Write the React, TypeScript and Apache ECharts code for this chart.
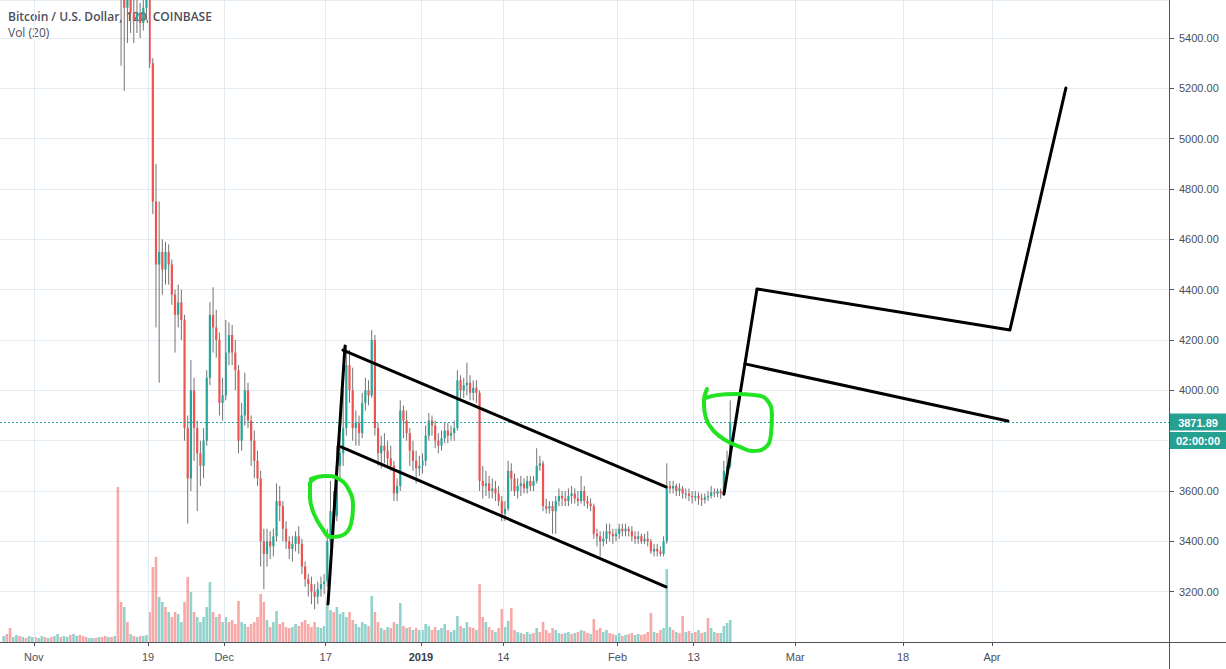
import React, { useEffect, useRef } from 'react';
import * as echarts from 'echarts';

const TITLE = 'Bitcoin / U.S. Dollar, 120, COINBASE';
const SUBTITLE = 'Vol (20)';

const xRange = ['2018-10-26 16:00', '2019-04-28 21:40'];
const xTickDates = ['2018-11-01', '2018-11-19', '2018-12-01', '2018-12-17', '2019-01-01', '2019-01-14', '2019-02-01', '2019-02-13', '2019-03-01', '2019-03-18', '2019-04-01'];
const xTickLabels = ['Nov', '19', 'Dec', '17', '2019', '14', 'Feb', '13', 'Mar', '18', 'Apr'];
const priceMin = 3000;
const priceMax = 5551;
const priceStep = 200;
const lastPrice = 3871.89;
const countdown = '02:00:00';

const candleStart = '2018-11-14 00:00';
const volumeStart = '2018-10-27 00:00';
const barHours = 12;

// 12-hour candles: [open, close, low, high]
const ohlc: number[][] = [
  [6400, 6300, 6250, 6420], [6300, 5620, 5290, 6320], // Nov 14
  [5620, 5520, 5190, 5640], [5520, 5560, 5380, 5620],
  [5560, 5500, 5420, 5600], [5500, 5470, 5380, 5560],
  [5470, 5500, 5420, 5560], [5500, 5460, 5400, 5540],
  [5460, 5520, 5430, 5580], [5520, 5560, 5470, 5620],
  [5560, 5300, 5280, 5600], [5300, 4750, 4700, 5320], // Nov 19
  [4750, 4500, 4250, 4900], [4500, 4550, 4030, 4750],
  [4550, 4480, 4380, 4600], [4480, 4550, 4420, 4590],
  [4550, 4500, 4420, 4580], [4500, 4380, 4340, 4520],
  [4380, 4300, 4150, 4400], [4300, 4350, 4250, 4420],
  [4350, 4280, 4200, 4400], [4280, 3850, 3800, 4300],
  [3850, 3650, 3470, 3900], [3650, 4000, 3600, 4120], // Nov 25
  [4000, 3850, 3720, 4050], [3850, 3750, 3520, 3880],
  [3750, 3700, 3620, 3800], [3700, 3800, 3650, 3850],
  [3800, 4050, 3780, 4080], [4050, 4300, 4020, 4350],
  [4300, 4250, 4150, 4410], [4250, 4200, 4130, 4320],
  [4200, 3950, 3900, 4230], [3950, 3980, 3880, 4050],
  [3980, 4150, 3960, 4280], [4150, 4220, 4100, 4270], // Dec 1
  [4220, 4150, 4100, 4260], [4150, 4080, 4000, 4200],
  [4080, 3800, 3750, 4100], [3800, 3900, 3760, 3950],
  [3900, 4000, 3860, 4070], [4000, 3880, 3850, 4030],
  [3880, 3800, 3700, 3900], [3800, 3720, 3650, 3840],
  [3720, 3650, 3620, 3760], [3650, 3400, 3300, 3680],
  [3400, 3350, 3210, 3450], [3350, 3400, 3300, 3450],
  [3400, 3380, 3330, 3440], [3380, 3420, 3340, 3450],
  [3420, 3560, 3400, 3630], [3560, 3540, 3480, 3620],
  [3540, 3450, 3400, 3560], [3450, 3400, 3370, 3480],
  [3400, 3370, 3330, 3420], [3370, 3390, 3320, 3420],
  [3390, 3420, 3360, 3440], [3420, 3390, 3350, 3460],
  [3390, 3300, 3270, 3410], [3300, 3250, 3220, 3320],
  [3250, 3230, 3180, 3270], [3230, 3200, 3150, 3260],
  [3200, 3180, 3130, 3230], [3180, 3210, 3150, 3240],
  [3210, 3230, 3180, 3260], [3230, 3240, 3190, 3270],
  [3240, 3400, 3220, 3450], [3400, 3520, 3380, 3640], // Dec 17
  [3520, 3500, 3420, 3600], [3500, 3700, 3480, 3780],
  [3700, 3750, 3650, 3820], [3750, 3850, 3700, 4000],
  [3850, 4100, 3820, 4180], [4100, 4000, 3950, 4160],
  [4000, 3850, 3800, 4090], [3850, 3870, 3780, 3920],
  [3870, 3830, 3780, 3900], [3830, 3950, 3810, 3990],
  [3950, 4000, 3920, 4050], [4000, 3980, 3940, 4040],
  [3980, 4200, 3970, 4240], [4200, 3850, 3820, 4220], // Dec 24
  [3850, 3750, 3700, 3870], [3750, 3780, 3690, 3820],
  [3780, 3760, 3710, 3830], [3760, 3730, 3690, 3800],
  [3730, 3700, 3680, 3780], [3700, 3590, 3560, 3720],
  [3590, 3620, 3560, 3650], [3620, 3920, 3600, 3960],
  [3920, 3880, 3810, 3940], [3880, 3830, 3800, 3920],
  [3830, 3760, 3700, 3850], [3760, 3720, 3680, 3800],
  [3720, 3690, 3630, 3760], [3690, 3700, 3660, 3740],
  [3700, 3720, 3670, 3750], [3720, 3820, 3700, 3860], // Jan 1
  [3820, 3880, 3800, 3910], [3880, 3860, 3820, 3900],
  [3860, 3800, 3770, 3880], [3800, 3780, 3750, 3830],
  [3780, 3810, 3760, 3840], [3810, 3840, 3790, 3870],
  [3840, 3820, 3790, 3870], [3820, 3830, 3800, 3860],
  [3830, 3850, 3800, 3880], [3850, 4040, 3840, 4080],
  [4040, 4000, 3960, 4060], [4000, 4020, 3970, 4050],
  [4020, 4030, 3980, 4110], [4030, 3990, 3960, 4060],
  [3990, 4010, 3960, 4040], [4010, 3990, 3950, 4040],
  [3990, 3640, 3600, 4000], [3640, 3620, 3570, 3700], // Jan 10
  [3620, 3630, 3580, 3680], [3630, 3600, 3570, 3660],
  [3600, 3610, 3570, 3650], [3610, 3590, 3560, 3640],
  [3590, 3560, 3540, 3620], [3560, 3510, 3480, 3580],
  [3510, 3530, 3480, 3560], [3530, 3680, 3520, 3720],
  [3680, 3650, 3600, 3710], [3650, 3600, 3580, 3670],
  [3600, 3620, 3570, 3650], [3620, 3630, 3580, 3660],
  [3630, 3610, 3590, 3650], [3610, 3640, 3590, 3660],
  [3640, 3620, 3600, 3660], [3620, 3640, 3600, 3660],
  [3640, 3700, 3630, 3770], [3700, 3710, 3680, 3740],
  [3710, 3540, 3520, 3720], [3540, 3530, 3510, 3570], // Jan 20
  [3530, 3540, 3510, 3560], [3540, 3520, 3430, 3560],
  [3520, 3560, 3430, 3580], [3560, 3580, 3540, 3610],
  [3580, 3570, 3540, 3600], [3570, 3560, 3540, 3600],
  [3560, 3580, 3540, 3610], [3580, 3590, 3550, 3620],
  [3590, 3570, 3550, 3610], [3570, 3560, 3540, 3600],
  [3560, 3600, 3550, 3660], [3600, 3560, 3540, 3620],
  [3560, 3550, 3530, 3580], [3550, 3540, 3520, 3570],
  [3540, 3430, 3410, 3550], [3430, 3420, 3380, 3450],
  [3420, 3400, 3340, 3440], [3400, 3410, 3380, 3440],
  [3410, 3440, 3390, 3470], [3440, 3430, 3400, 3470],
  [3430, 3420, 3390, 3450], [3420, 3430, 3400, 3450],
  [3430, 3450, 3410, 3470], [3450, 3440, 3420, 3470], // Feb 1
  [3440, 3450, 3420, 3470], [3450, 3440, 3420, 3460],
  [3440, 3420, 3400, 3460], [3420, 3410, 3390, 3440],
  [3410, 3420, 3390, 3440], [3420, 3400, 3390, 3430],
  [3400, 3410, 3390, 3430], [3410, 3400, 3380, 3440],
  [3400, 3360, 3350, 3410], [3360, 3370, 3340, 3390],
  [3370, 3360, 3340, 3390], [3360, 3350, 3340, 3380],
  [3350, 3400, 3340, 3420], [3400, 3620, 3390, 3710], // Feb 8
  [3620, 3610, 3590, 3640], [3610, 3620, 3590, 3640],
  [3620, 3600, 3580, 3630], [3600, 3610, 3580, 3630],
  [3610, 3590, 3570, 3620], [3590, 3590, 3570, 3610],
  [3590, 3580, 3560, 3610], [3580, 3575, 3550, 3600],
  [3575, 3580, 3560, 3600], [3580, 3570, 3545, 3595],
  [3570, 3565, 3540, 3590], [3565, 3575, 3550, 3590],
  [3575, 3580, 3560, 3600], [3580, 3595, 3570, 3620],
  [3595, 3590, 3575, 3610], [3590, 3600, 3575, 3610],
  [3600, 3590, 3570, 3610], [3590, 3680, 3580, 3720],
  [3680, 3700, 3660, 3760], [3700, 3871.89, 3690, 3960], // Feb 18
];

// 12-hour volume from Oct 27 (negative = down bar)
const volumes: number[] = [
  6, -8, -14, 5, 7, -6, 5, -4, 6, 5,
  -5, 4, 6, -5, 4, -5, 6, 8, -5, 6, 5, -7, 8, 6, -7, -6, -5, 4, 4, -4, 5, -5, -6, 5, -5, 6,
  -155, -40, 35, -20, 8, -6, 5, -6, 6, 7,
  -30, -75, -85, 45, 40, -35, 30, -25, -30, 28, 20, -40,
  -65, 50, -30, 25, 20, 25, 35, 60, -30, 25, -28, 20,
  25, -20, -22, -18, -41, 20, 18, -15, -18, -20, -25, -48,
  -40, 22, -15, 20, 31, -18, -20, -15, -14, 15, 18, -16,
  -20, -22, -18, -15, -20, 15, 14, 16, 38, 32, -30, 35,
  28, 30, 25, -30, -22, 18, 15, 20, 18, -16, 46, -30,
  -20, 14, -12, 15, -14, -20, 18, 39, -16, 14, -15, 12, -14, 12,
  12, 18, 16, -12, -15, 12, 14, 18, -12, 10, 12, 26,
  -16, 14, 20, -15, -14, 12, -58, -25,
  20, -15, -12, 10, -14, -33, 15, 21, -34, -12, 10, 9, -8, 10, 8, -9, 14, -10,
  -20, -12, -9, -14, 12, 9, -8, 9, 10, -8, 9, -10, 12, -11, -9, 8, -23, -12, -14, 10, 12, -9,
  -8, 7, 9, -6, 7, -8, -9, 7, 8, -7, -8, -10, -29, 10, -9, -12,
  14, 73, 15, -12, 10, -9, -26, 10, -11, 9, -10, 12, -9, 10, -24, 14, 10, -9, 9, 16, 19, 22,
];

// hand-drawn annotations [time, price]
const breakoutLine: [string, number][] = [['2018-12-17 08:40', 3151], ['2018-12-20 01:00', 4176]];
const channelUpper: [string, number][] = [['2018-12-19 17:20', 4160], ['2019-02-08 15:00', 3616]];
const channelLower: [string, number][] = [['2018-12-19 10:00', 3775], ['2019-02-08 15:00', 3219]];
const projectionPath: [string, number][] = [
  ['2019-02-17 18:15', 3588], ['2019-02-22 23:15', 4403], ['2019-04-03 20:00', 4240], ['2019-04-12 15:36', 5201],
];
const projectionLower: [string, number][] = [['2019-02-21 01:40', 4105], ['2019-04-03 12:15', 3878]];
const circleDec: [string, number][] = [
  ['2018-12-14 16:20', 3648], ['2018-12-16 21:20', 3660], ['2018-12-19 02:10', 3648], ['2018-12-20 16:05', 3604],
  ['2018-12-21 07:10', 3540], ['2018-12-20 23:35', 3469], ['2018-12-19 17:20', 3425], ['2018-12-17 20:00', 3417],
  ['2018-12-16 09:50', 3453], ['2018-12-15 03:40', 3509], ['2018-12-14 12:30', 3576], ['2018-12-14 12:30', 3628],
  ['2018-12-15 11:15', 3652],
];
const circleFeb: [string, number][] = [
  ['2019-02-15 02:00', 4005], ['2019-02-14 14:25', 3954], ['2019-02-14 22:00', 3890], ['2019-02-16 00:30', 3842],
  ['2019-02-17 21:50', 3803], ['2019-02-20 06:40', 3775], ['2019-02-22 04:05', 3759], ['2019-02-24 05:15', 3771],
  ['2019-02-25 03:50', 3822], ['2019-02-25 07:40', 3902], ['2019-02-24 13:00', 3962], ['2019-02-22 15:35', 3981],
  ['2019-02-19 12:00', 3985], ['2019-02-16 15:50', 3981], ['2019-02-14 22:00', 3970],
];

const UP = '#26a69a';
const DOWN = '#ef5350';
const UP_VOL = 'rgba(38,166,154,0.5)';
const DOWN_VOL = 'rgba(239,83,80,0.5)';
const WICK = '#737375';
const GRID = '#e3ebf1';
const AXIS = '#50535e';
const TEXT = '#4c4f59';
const LABEL_BG = '#26a091';
const GREEN = '#22e322';
const FONT = '"Liberation Sans", Arial, sans-serif';

function ts(s: string): number {
  const [d, t] = s.split(' ');
  const [y, m, dd] = d.split('-').map(Number);
  const [hh, mm] = (t || '00:00').split(':').map(Number);
  return new Date(y, m - 1, dd, hh, mm).getTime();
}

const HOUR = 3600 * 1000;
const pts = (arr: [string, number][]) => arr.map(([d, p]) => [ts(d), p]);

export default function App() {
  const ref = useRef<HTMLDivElement>(null);

  useEffect(() => {
    const chart = echarts.init(ref.current!, null, { renderer: 'svg' });
    const tickVals = xTickDates.map(ts);
    const c0 = ts(candleStart);
    const v0 = ts(volumeStart);
    const candleData = ohlc.map((d, i) => [c0 + i * barHours * HOUR + (barHours / 2) * HOUR, d[0], d[1], d[2], d[3]]);
    const volData = volumes.map((v, i) => ({
      value: [v0 + i * barHours * HOUR + (barHours / 2) * HOUR, Math.abs(v)],
      itemStyle: { color: v >= 0 ? UP_VOL : DOWN_VOL },
    }));

    const drawLine = (data: any[], z = 5) => ({
      type: 'line', xAxisIndex: 0, yAxisIndex: 0, data, symbol: 'none', silent: true, z,
      lineStyle: { color: '#000000', width: 3, cap: 'round', join: 'round' },
    });
    const loop = (data: any[]) => ({
      type: 'line', xAxisIndex: 0, yAxisIndex: 0, data, symbol: 'none', silent: true, z: 6, smooth: 0.45,
      lineStyle: { color: GREEN, width: 4, cap: 'round', join: 'round' },
    });

    const xMin = ts(xRange[0]);
    const xMax = ts(xRange[1]);

    chart.setOption({
      animation: false,
      backgroundColor: '#ffffff',
      title: [
        { text: TITLE, left: 8, top: 10, padding: 0, z: 1,
          textStyle: { fontFamily: '"Open Sans", sans-serif', fontSize: 12, fontWeight: 600, color: TEXT } },
        { text: SUBTITLE, left: 8, top: 26, padding: 0, z: 1,
          textStyle: { fontFamily: '"Open Sans", sans-serif', fontSize: 12, fontWeight: 'normal', color: TEXT } },
      ],
      grid: [
        { left: 0, right: 57, top: 0, bottom: 27 },
        { left: 0, right: 57, top: 442, bottom: 27 },
      ],
      xAxis: [
        {
          type: 'value', gridIndex: 0, min: xMin, max: xMax,
          axisLine: { show: true, lineStyle: { color: AXIS } },
          axisTick: { show: true, customValues: tickVals, length: 4, lineStyle: { color: AXIS } },
          axisLabel: {
            customValues: tickVals, margin: 9, color: TEXT, fontSize: 11, fontFamily: FONT,
            formatter: (v: number) => {
              let best = 0;
              tickVals.forEach((t, i) => { if (Math.abs(t - v) < Math.abs(tickVals[best] - v)) best = i; });
              const s = xTickLabels[best];
              return s === '2019' ? '{b|2019}' : s;
            },
            rich: { b: { fontWeight: 'bold', fontSize: 11, fontFamily: FONT, color: '#3a3d45' } },
          },
          splitLine: { show: false },
        },
        { type: 'value', gridIndex: 1, min: xMin, max: xMax, show: false, splitLine: { show: false } },
      ],
      yAxis: [
        {
          type: 'value', gridIndex: 0, position: 'right', min: priceMin, max: priceMax, interval: priceStep,
          axisLine: { show: true, lineStyle: { color: AXIS } },
          axisTick: { show: true, length: 5, lineStyle: { color: AXIS } },
          axisLabel: {
            // labels hidden where the last-price tag covers them
            formatter: (v: number) => (Math.abs(v - lastPrice) < 100 ? '' : v.toFixed(2)),
            showMinLabel: false, showMaxLabel: false,
            margin: 10, color: TEXT, fontSize: 11, fontFamily: FONT,
          },
          splitLine: { show: true, lineStyle: { color: GRID, width: 1 } },
        },
        { type: 'value', gridIndex: 1, min: 0, max: 200, show: false, splitLine: { show: false } },
      ],
      series: [
        {
          type: 'line', xAxisIndex: 0, yAxisIndex: 0, data: [], silent: true, z: 0,
          markLine: {
            silent: true, symbol: 'none', animation: false, label: { show: false },
            lineStyle: { color: GRID, type: 'solid', width: 1 },
            data: tickVals.map((t) => ({ xAxis: t })),
          },
        },
        {
          type: 'bar', xAxisIndex: 1, yAxisIndex: 1, data: volData, barWidth: 2.6, silent: true, z: 2,
        },
        {
          type: 'custom', xAxisIndex: 0, yAxisIndex: 0, z: 3, silent: true,
          data: candleData,
          encode: { x: 0, y: [1, 2, 3, 4] },
          renderItem: (params: any, api: any) => {
            const x = api.value(0);
            const o = api.value(1), c = api.value(2), l = api.value(3), h = api.value(4);
            const pO = api.coord([x, o]);
            const pC = api.coord([x, c]);
            const pL = api.coord([x, l]);
            const pH = api.coord([x, h]);
            const top = Math.min(pO[1], pC[1]);
            const bot = Math.max(pO[1], pC[1]);
            const cx = pO[0];
            return {
              type: 'group',
              children: [
                { type: 'line', shape: { x1: cx, y1: pH[1], x2: cx, y2: pL[1] }, style: { stroke: WICK, lineWidth: 1 } },
                { type: 'rect', shape: { x: cx - 1.1, y: top, width: 2.2, height: Math.max(1, bot - top) },
                  style: { fill: c >= o ? UP : DOWN } },
              ],
            };
          },
        },
        {
          type: 'line', xAxisIndex: 0, yAxisIndex: 0, data: [], silent: true, z: 4,
          markLine: {
            silent: true, symbol: 'none', animation: false, label: { show: false },
            lineStyle: { color: UP, type: [2, 2], width: 1 },
            data: [{ yAxis: lastPrice }],
          },
        },
        drawLine(pts(breakoutLine)),
        drawLine(pts(channelUpper)),
        drawLine(pts(channelLower)),
        drawLine(pts(projectionPath)),
        drawLine(pts(projectionLower)),
        loop(pts(circleDec)),
        loop(pts(circleFeb)),
      ],
    });

    const yPix = chart.convertToPixel({ yAxisIndex: 0 }, lastPrice) as number;
    const w = chart.getWidth();
    const h = chart.getHeight();
    const axisX = w - 57;
    const axisY = h - 27;
    chart.setOption({
      graphic: {
        elements: [
          { type: 'line', silent: true, z: 10, shape: { x1: axisX + 0.5, y1: axisY, x2: axisX + 0.5, y2: h }, style: { stroke: AXIS, lineWidth: 1 } },
          { type: 'line', silent: true, z: 10, shape: { x1: axisX, y1: axisY + 0.5, x2: w, y2: axisY + 0.5 }, style: { stroke: AXIS, lineWidth: 1 } },
          { type: 'rect', silent: true, z: 10, shape: { x: axisX + 1, y: yPix - 9, width: w - axisX - 1, height: 17 }, style: { fill: LABEL_BG } },
          { type: 'text', silent: true, z: 11, x: axisX + 29, y: yPix, style: { text: lastPrice.toFixed(2), fill: '#ffffff', font: `bold 11px ${FONT}`, align: 'center', verticalAlign: 'middle' } },
          { type: 'rect', silent: true, z: 10, shape: { x: axisX + 1, y: yPix + 9.5, width: w - axisX - 1, height: 17 }, style: { fill: LABEL_BG } },
          { type: 'text', silent: true, z: 11, x: axisX + 29, y: yPix + 18, style: { text: countdown, fill: '#ffffff', font: `bold 11px ${FONT}`, align: 'center', verticalAlign: 'middle' } },
        ],
      },
    });

    return () => chart.dispose();
  }, []);

  return (
    <div
      ref={ref}
      style={{ position: 'fixed', left: 0, top: 0, width: 1226, height: 669, background: '#ffffff' }}
    />
  );
}
